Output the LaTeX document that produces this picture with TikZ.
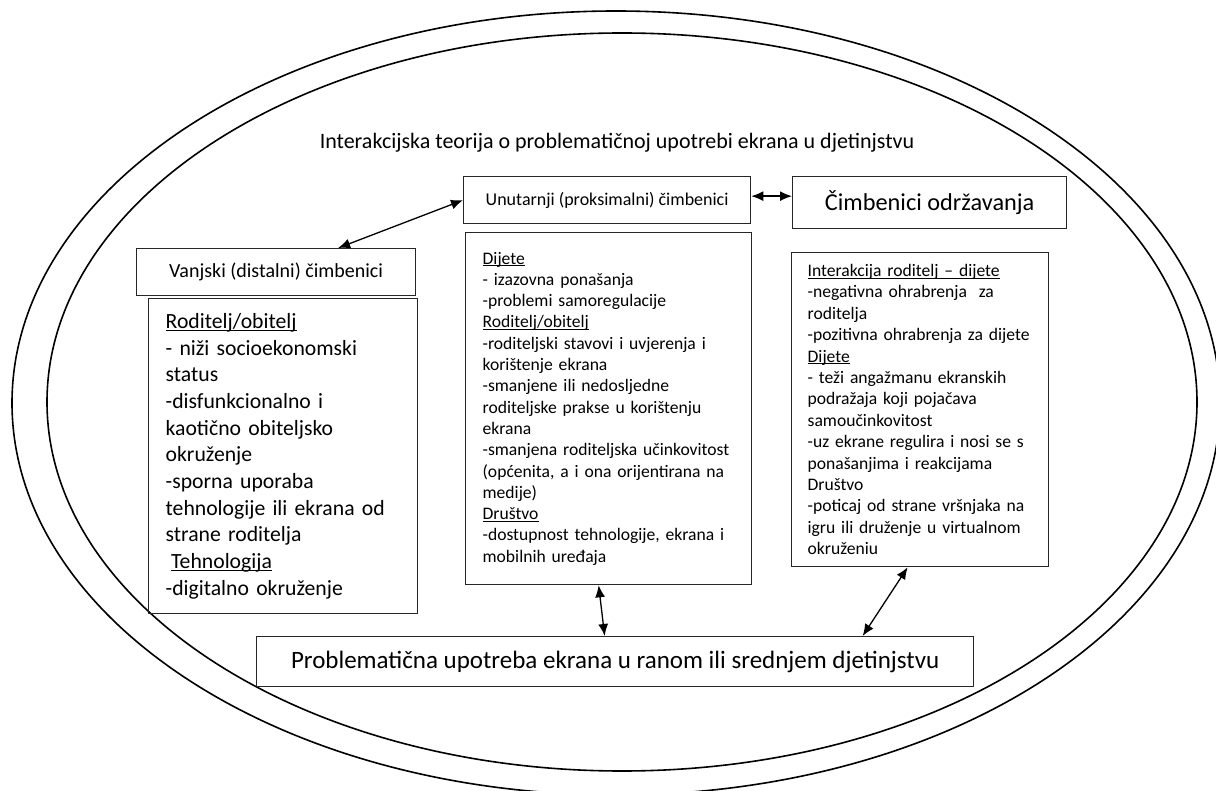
\documentclass[tikz,border=0pt]{standalone}
\usepackage{fontspec}
\setmainfont{Carlito}
\usepackage{tikz}
\usetikzlibrary{arrows.meta,positioning,calc}
\newcommand{\ulhead}[1]{\underline{\smash{#1}}\vphantom{#1}}
\tikzset{
  box/.style    ={draw=black!85, line width=1.3pt, align=center, inner sep=0pt, anchor=north west},
  txtbox/.style ={draw=black!85, line width=1.3pt, align=left, inner ysep=0pt, anchor=north west},
  arr/.style    ={{Latex[length=12pt,width=10pt]}-{Latex[length=12pt,width=10pt]}, line width=1.3pt},
  ring/.style   ={line width=1.6pt},
}

\begin{document}
\begin{tikzpicture}[x=1pt, y=-1pt]
  \useasboundingbox (0,0) rectangle (1216,791);
  % --- the two rings ---
  \draw[ring] (616,403) ellipse [x radius=604pt, y radius=392pt];
  \draw[ring] (622,402) ellipse [x radius=575pt, y radius=369pt];
  \node[font=\fontsize{22}{26}\selectfont] (title) at (617,143)
    {Interakcijska teorija o problematičnoj upotrebi ekrana u djetinjstvu};
  % --- top row ---
  \node[box, minimum width=287pt, minimum height=47pt, font=\fontsize{18}{22}\selectfont]
    (unut) at (463,176) {Unutarnji (proksimalni) čimbenici};
  \node[box, minimum width=274pt, minimum height=52pt, font=\fontsize{24.3}{28}\selectfont]
    (odrz) at (792,176) {Čimbenici održavanja};
  \node[box, minimum width=279pt, minimum height=47pt, font=\fontsize{20}{24}\selectfont]
    (vanj) at (136,248) {Vanjski (distalni) čimbenici};
  % --- content boxes ---
  \node[txtbox, inner xsep=17pt, text width=235pt, minimum height=315pt,
        font=\fontsize{21.7}{26.7}\selectfont] (leftc) at (148,298) {%
    \ulhead{Roditelj/obitelj}\\
    - niži socioekonomski\\
    status\\
    -disfunkcionalno i\\
    kaotično obiteljsko\\
    okruženje\\
    -sporna uporaba\\
    tehnologije ili ekrana od\\
    strane roditelja\\
    \hspace{0.25em}\ulhead{Tehnologija}\\
    -digitalno okruženje};
  \node[txtbox, inner xsep=17pt, text width=252pt, minimum height=352pt,
        font=\fontsize{17.6}{21.3}\selectfont] (midc) at (465,232) {%
    \ulhead{Dijete}\\
    - izazovna ponašanja\\
    -problemi samoregulacije\\
    \ulhead{Roditelj/obitelj}\\
    -roditeljski stavovi i uvjerenja i\\
    korištenje ekrana\\
    -smanjene ili nedosljedne\\
    roditeljske prakse u korištenju\\
    ekrana\\
    -smanjena roditeljska učinkovitost\\
    (općenita, a i ona orijentirana na\\
    medije)\\
    \ulhead{Društvo}\\
    -dostupnost tehnologije, ekrana i\\
    mobilnih uređaja};
  \node[txtbox, inner xsep=16pt, text width=225pt, minimum height=314pt,
        font=\fontsize{17.6}{21.4}\selectfont] (rightc) at (791,252) {%
    \ulhead{Interakcija roditelj – dijete}\\
    -negativna ohrabrenja\ \ za\\
    roditelja\\
    -pozitivna ohrabrenja za dijete\\
    \ulhead{Dijete}\\
    - teži angažmanu ekranskih\\
    podražaja koji pojačava\\
    samoučinkovitost\\
    -uz ekrane regulira i nosi se s\\
    ponašanjima i reakcijama\\
    Društvo\\
    -poticaj od strane vršnjaka na\\
    igru ili druženje u virtualnom\\
    okruženiu};
  % --- outcome ---
  \node[box, minimum width=717pt, minimum height=50pt, font=\fontsize{25}{29}\selectfont]
    (outc) at (256,636) {Problematična upotreba ekrana u ranom ili srednjem djetinjstvu};
  % --- arrows ---
  \draw[arr] ([xshift=62pt]vanj.north) -- (unut.west);
  \draw[arr] ([yshift=4pt]unut.east) -- ([yshift=4pt]unut.east -| odrz.west);
  \draw[arr] ([xshift=-10pt]midc.south) -- ([xshift=-10.5pt]outc.north);
  \draw[arr] ([xshift=-12.5pt]rightc.south) -- ([xshift=247.5pt]outc.north);
\end{tikzpicture}
\end{document}
